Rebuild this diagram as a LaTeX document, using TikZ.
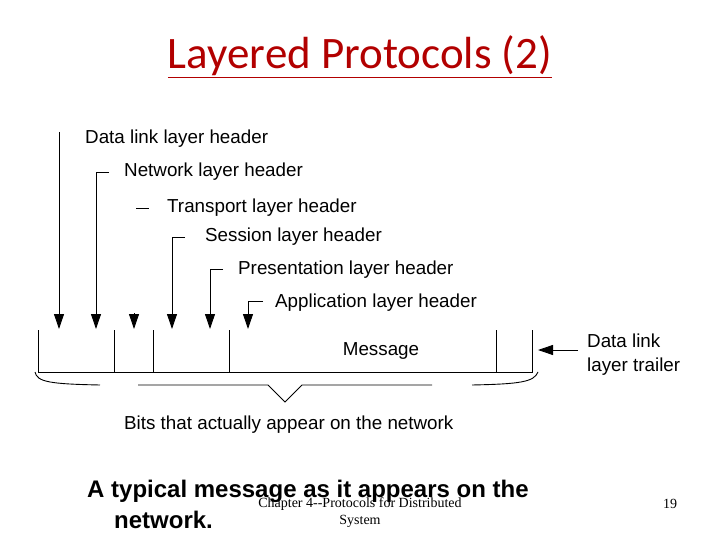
\documentclass[tikz,border=0pt]{standalone}
\usepackage{fontspec}
\setmainfont{Liberation Sans}
\newfontfamily\titlefont{Carlito}
\newfontfamily\serifft{Liberation Serif}
\usetikzlibrary{arrows.meta}
\begin{document}
\begin{tikzpicture}[x=1pt,y=-1pt,
  lbl/.style={anchor=west,inner sep=0pt,font=\fontsize{18.8}{24}\selectfont},
  ln/.style={line width=0.9pt},
  arr/.style={ln,-{Triangle[length=15pt,width=10pt]}},
  tip/.style={-{Triangle[length=15pt,width=10pt]}}]
\useasboundingbox (0,0) rectangle (720,540);
\node[font=\titlefont\fontsize{45}{50}\selectfont,text=red!70!black] (title) at (360,57) {\underline{Layered Protocols (2)}};
% labels
\node[lbl] (dl) at (85,139) {Data link layer header};
\node[lbl] (nl) at (124,172) {Network layer header};
\node[lbl] (tl) at (167,208) {Transport layer header};
\node[lbl] (sl) at (205,237) {Session layer header};
\node[lbl] (pl) at (238,270) {Presentation layer header};
\node[lbl] (al) at (275,303) {Application layer header};
% arrows
\coordinate (a1) at (59,329); \coordinate (a2) at (96,329); \coordinate (a3) at (134,329);
\coordinate (a4) at (172,329); \coordinate (a5) at (210,329); \coordinate (a6) at (248,329);
\draw[arr] (59,132) -- (a1);
\draw[arr] (109,172) -- (96,172) -- (a2);
\draw[ln] (136,208) -- (149,208);
\draw[ln,tip] (134,313) -- (a3);
\draw[arr] (185,237) -- (172,237) -- (a4);
\draw[arr] (223,269) -- (210,269) -- (a5);
\draw[arr] (263,301) -- (248,301) -- (a6);
% message frame
\draw[ln] (38,330) -- (38,372) -- (532,372) -- (532,330);
\foreach \x in {114,153,229,496} \draw[ln] (\x,330) -- (\x,372);
\node[lbl,anchor=center] (msg) at (381,351) {Message};
\node[lbl,align=left] (tr) at (587,355) {Data link\\layer trailer};
\coordinate (trs) at (578,350);
\draw[arr] (trs) -- (538,350);
% brace
\draw[ln] (35,372) .. controls (37,382) and (50,384) .. (100,385);
\draw[ln] (138,385) -- (268,385) -- (285,402) -- (302,385) -- (432,385);
\draw[ln] (472,385) .. controls (520,384) and (534,382) .. (538,372);
\node[lbl] (bits) at (124,425) {Bits that actually appear on the network};
% bottom
\node[anchor=west,inner sep=0pt,font=\bfseries\fontsize{24}{26}\selectfont] (cap1) at (87,491) {A typical message as it appears on the};
\node[anchor=west,inner sep=0pt,font=\bfseries\fontsize{24}{26}\selectfont] (cap2) at (114,520) {network.};
\node[align=center,inner sep=0pt,font=\serifft\fontsize{14}{17}\selectfont] (foot) at (360,513) {Chapter 4--Protocols for Distributed\\System};
\node[inner sep=0pt,font=\serifft\fontsize{14}{16}\selectfont] (pg) at (670,504) {19};
\end{tikzpicture}
\end{document}
